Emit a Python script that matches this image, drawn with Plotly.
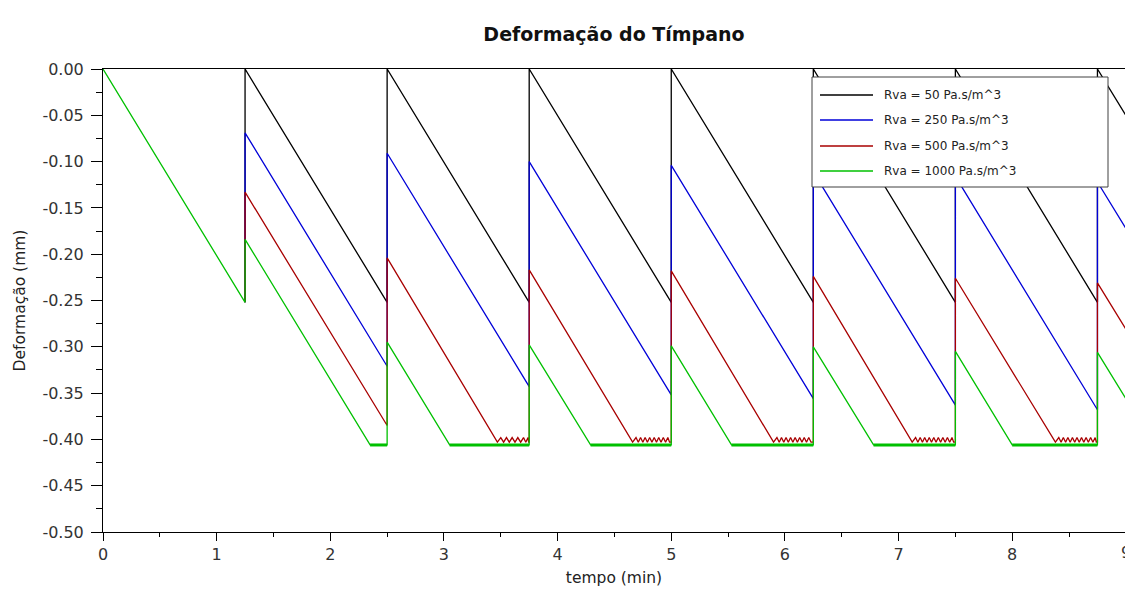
import plotly.graph_objects as go

# ---------------- data ----------------
T_BOUNDS = [0.0, 1.25, 2.5, 3.75, 5.0, 6.25, 7.5, 8.75, 9.0]   # period boundaries (min)
FIRST_PERIOD = [0.0, -0.252]                                   # common first ramp (all series)

NAMES = ["Rva = 50 Pa.s/m^3", "Rva = 250 Pa.s/m^3",
         "Rva = 500 Pa.s/m^3", "Rva = 1000 Pa.s/m^3"]

# value just after each jump (t = 1.25, 2.5, ... 8.75)
black_start = [0.000, 0.000, 0.000, 0.000, 0.000, 0.000, 0.000]
blue_start = [-0.069, -0.091, -0.100, -0.104, -0.111, -0.116, -0.122]
red_start = [-0.133, -0.204, -0.217, -0.218, -0.224, -0.226, -0.231]
green_start = [-0.184, -0.295, -0.298, -0.299, -0.300, -0.305, -0.306]

# value at the end of each period (before the next jump)
black_end = [-0.252, -0.252, -0.252, -0.252, -0.252, -0.252, -0.050]
blue_end = [-0.321, -0.343, -0.352, -0.356, -0.363, -0.368, -0.172]
red_end = [-0.385, -0.403, -0.403, -0.403, -0.403, -0.403, -0.281]
green_end = [-0.406, -0.406, -0.406, -0.406, -0.406, -0.406, -0.356]

# time at which the curve reaches the lower limit (None = not reached)
black_hit = [None, None, None, None, None, None, None]
blue_hit = [None, None, None, None, None, None, None]
red_hit = [None, 3.47, 4.66, 5.90, 7.12, 8.38, None]
green_hit = [2.35, 3.05, 4.29, 5.53, 6.78, 8.00, None]

# small oscillation of the red curve on the lower limit (tooth peaks)
red_peak = -0.398
red_teeth = [
    [],
    [3.50, 3.55, 3.60, 3.65, 3.70, 3.74],
    [4.69, 4.73, 4.77, 4.81, 4.85, 4.89, 4.93, 4.97],
    [5.93, 5.97, 6.01, 6.05, 6.09, 6.13, 6.17, 6.21],
    [7.15, 7.19, 7.23, 7.27, 7.31, 7.35, 7.39, 7.43, 7.47],
    [8.41, 8.45, 8.49, 8.53, 8.57, 8.61, 8.65, 8.69, 8.73],
    [],
]

X_TICKS = [0, 1, 2, 3, 4, 5, 6, 7, 8]
X_TICKTEXT = ["0", "1", "2", "3", "4", "5", "6", "7", "8"]
Y_TICKS = [0.0, -0.05, -0.10, -0.15, -0.20, -0.25, -0.30, -0.35, -0.40, -0.45, -0.50]
Y_TICKTEXT = ["0.00", "-0.05", "-0.10", "-0.15", "-0.20", "-0.25", "-0.30",
              "-0.35", "-0.40", "-0.45", "-0.50"]

COLORS = ["#000000", "#0000d8", "#a80000", "#00c000"]
FONT = "DejaVu Sans"


def build(start, end, hit, teeth=None, peak=None, with_first=True):
    # the first ramp (0 -> 1.25 min) is identical for all series; in the
    # original only the last drawn (green) curve is visible there
    if with_first:
        xs = [T_BOUNDS[0], T_BOUNDS[1]]
        ys = [FIRST_PERIOD[0], FIRST_PERIOD[1]]
    else:
        xs = [T_BOUNDS[1]]
        ys = [FIRST_PERIOD[1]]
    for k in range(len(start)):
        t0, t1 = T_BOUNDS[k + 1], T_BOUNDS[k + 2]
        xs.append(t0)
        ys.append(start[k])
        if hit[k] is not None:
            xs.append(hit[k])
            ys.append(end[k])
            if teeth and teeth[k]:
                tl = teeth[k]
                for i, tt in enumerate(tl):
                    nxt = tl[i + 1] if i + 1 < len(tl) else t1
                    xs += [tt, (tt + nxt) / 2]
                    ys += [peak, end[k]]
        xs.append(t1)
        ys.append(end[k])
    return xs, ys


fig = go.Figure()
series = [
    (black_start, black_end, black_hit, None, None),
    (blue_start, blue_end, blue_hit, None, None),
    (red_start, red_end, red_hit, red_teeth, red_peak),
    (green_start, green_end, green_hit, None, None),
]
for i, (s, e, h, tt, pk) in enumerate(series):
    xs, ys = build(s, e, h, tt, pk, with_first=(i == len(series) - 1))
    fig.add_trace(go.Scatter(x=xs, y=ys, mode="lines", name=NAMES[i],
                             showlegend=False,
                             line=dict(color=COLORS[i], width=1.3)))

# thicker band where the green curve sits on its lower limit
bx, by = [], []
for k, h in enumerate(green_hit):
    if h is not None:
        bx += [h, T_BOUNDS[k + 2], None]
        by += [green_end[k], green_end[k], None]
fig.add_trace(go.Scatter(x=bx, y=by, mode="lines", showlegend=False,
                         hoverinfo="skip", line=dict(color=COLORS[3], width=3)))

W, H = 1125, 604
L, R, T, B = 103, 0, 69, 72
PW, PH = W - L - R, H - T - B


def px(xp):
    return (xp - L) / PW


def py(yp):
    return 1 - (yp - T) / PH


fig.update_layout(
    width=W, height=H,
    margin=dict(l=L, r=R, t=T, b=B, pad=0),
    paper_bgcolor="white", plot_bgcolor="white",
    template="none",
    showlegend=False,
    font=dict(family=FONT, color="#222222"),
    title=dict(text="Deformação do Tímpano", x=0.5, xref="paper", xanchor="center",
               y=1 - 34 / H, yref="container", yanchor="middle",
               font=dict(family=FONT, size=19, color="#111111", weight="bold")),
    xaxis=dict(range=[0, PW / 113.65], showgrid=False, zeroline=False,
               showline=True, linecolor="#000000", linewidth=1, mirror=True,
               ticks="outside", ticklen=8, tickcolor="#000000", tickwidth=1,
               tickmode="array", tickvals=X_TICKS, ticktext=X_TICKTEXT,
               minor=dict(tickmode="linear", tick0=0, dtick=0.5, ticks="outside",
                          ticklen=4, tickcolor="#000000", showgrid=False),
               tickfont=dict(family=FONT, size=16, color="#333333"),
               title=dict(text="tempo (min)", standoff=8,
                          font=dict(family=FONT, size=15.5, color="#222222")),
               automargin=False, fixedrange=True),
    yaxis=dict(range=[-0.5, 0], showgrid=False, zeroline=False,
               showline=True, linecolor="#000000", linewidth=1,
               ticks="outside", ticklen=11, tickcolor="#000000", tickwidth=1,
               ticklabelstandoff=4,
               tickmode="array", tickvals=Y_TICKS, ticktext=Y_TICKTEXT,
               minor=dict(tickmode="linear", tick0=0, dtick=0.025, ticks="outside",
                          ticklen=6, tickcolor="#000000", showgrid=False),
               tickfont=dict(family=FONT, size=16, color="#333333"),
               title=dict(text="Deformação (mm)", standoff=12,
                          font=dict(family=FONT, size=15.5, color="#222222")),
               automargin=False, fixedrange=True),
)

# legend box (drawn as in the original: long line samples, wide frame)
fig.add_shape(type="rect", xref="paper", yref="paper",
              x0=px(812), x1=px(1108), y0=py(187), y1=py(77),
              line=dict(color="#404040", width=1), fillcolor="white", layer="above")
ROW_Y = [95, 120, 146, 171]
for i, name in enumerate(NAMES):
    fig.add_shape(type="line", xref="paper", yref="paper",
                  x0=px(820), x1=px(873), y0=py(ROW_Y[i]), y1=py(ROW_Y[i]),
                  line=dict(color=COLORS[i], width=1.3), layer="above")
    fig.add_annotation(text=name, xref="paper", yref="paper",
                       x=px(882), y=py(ROW_Y[i]), xanchor="left", yanchor="middle",
                       showarrow=False,
                       font=dict(family=FONT, size=12, color="#222222"))

# tick label "9" falls just past the right edge of the window (cut off, as in the original)
fig.add_annotation(text="9", xref="paper", yref="paper",
                   x=(9 * 113.65) / PW, y=0, xanchor="center", yanchor="middle",
                   yshift=-20, showarrow=False,
                   font=dict(family=FONT, size=16, color="#333333"))

fig.write_html("out.html", include_plotlyjs=True, config={"displayModeBar": False})
